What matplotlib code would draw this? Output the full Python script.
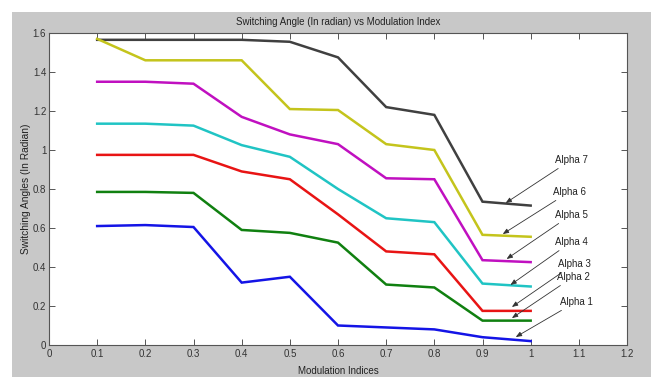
import matplotlib
matplotlib.use("Agg")
import matplotlib.pyplot as plt
from matplotlib.patches import Rectangle
from matplotlib.ticker import FuncFormatter

plt.rcParams['font.family'] = ['Liberation Sans', 'DejaVu Sans']

mod_index = [0.1, 0.2, 0.3, 0.4, 0.5, 0.6, 0.7, 0.8, 0.9, 1.0]
alpha1 = [0.61, 0.615, 0.605, 0.32, 0.35, 0.10, 0.09, 0.08, 0.04, 0.02]
alpha2 = [0.785, 0.785, 0.78, 0.59, 0.575, 0.525, 0.31, 0.295, 0.125, 0.125]
alpha3 = [0.975, 0.975, 0.975, 0.89, 0.85, 0.67, 0.48, 0.465, 0.175, 0.175]
alpha4 = [1.135, 1.135, 1.125, 1.025, 0.965, 0.80, 0.65, 0.63, 0.315, 0.30]
alpha5 = [1.35, 1.35, 1.34, 1.17, 1.08, 1.03, 0.855, 0.85, 0.435, 0.425]
alpha6 = [1.57, 1.46, 1.46, 1.46, 1.21, 1.205, 1.03, 1.0, 0.565, 0.555]
alpha7 = [1.565, 1.565, 1.565, 1.565, 1.555, 1.475, 1.22, 1.18, 0.735, 0.715]
labels = ['Alpha 1', 'Alpha 2', 'Alpha 3', 'Alpha 4', 'Alpha 5', 'Alpha 6', 'Alpha 7']
series = [alpha1, alpha2, alpha3, alpha4, alpha5, alpha6, alpha7]
colors = ['#1414e6', '#108010', '#e81414', '#20c4c4', '#c010c0', '#c4c41c', '#404040']

fig = plt.figure(figsize=(6.51, 3.77), dpi=100)
fig.patch.set_facecolor('#c8c8c8')
# white strips at top and left
fig.patches.append(Rectangle((0, 1 - 12/377), 1, 12/377, transform=fig.transFigure,
                             facecolor='white', edgecolor='none', zorder=0))
fig.patches.append(Rectangle((0, 0), 12/651, 1, transform=fig.transFigure,
                             facecolor='white', edgecolor='none', zorder=0))

ax = fig.add_axes([49/651, 1 - 345/377, (627-49)/651, (345-33)/377])
ax.set_facecolor('white')

for ys, c in zip(series[::-1], colors[::-1]):
    ax.plot(mod_index, ys, color=c, lw=1.8, solid_joinstyle='miter')

ax.set_xlim(0, 1.2)
ax.set_ylim(0, 1.6)
ax.set_xticks([i / 10 for i in range(13)])
ax.set_yticks([i / 5 for i in range(9)])
fmt = FuncFormatter(lambda v, p: f"{v:g}")
ax.xaxis.set_major_formatter(fmt)
ax.yaxis.set_major_formatter(fmt)
ax.tick_params(direction='in', top=True, right=True, length=4, width=0.7,
               colors='#555555', labelsize=7, labelcolor='#333333')
ax.tick_params(axis='y', pad=2)
ax.tick_params(axis='x', pad=3)
for s in ax.spines.values():
    s.set_color('#555555')
    s.set_linewidth(0.8)

ax.set_title('Switching Angle (In radian) vs Modulation Index', fontsize=7, color='#222222', pad=6)
ax.set_xlabel('Modulation Indices', fontsize=7, color='#222222', labelpad=5)
ax.set_ylabel('Switching Angles (In Radian)', fontsize=7.3, color='#222222', labelpad=1)

text_pos = [(1.060, 0.221), (1.054, 0.349), (1.056, 0.415), (1.050, 0.528),
            (1.050, 0.667), (1.046, 0.785), (1.050, 0.949)]
head_pos = [(0.969, 0.041), (0.961, 0.138), (0.961, 0.195), (0.958, 0.308),
            (0.950, 0.441), (0.942, 0.569), (0.948, 0.728)]
for lab, tp, hp in zip(labels, text_pos, head_pos):
    ax.annotate(lab, xy=hp, xytext=tp, ha='left', va='center', fontsize=7, color='#222222',
                arrowprops=dict(arrowstyle='-|>,head_length=0.5,head_width=0.2',
                                color='#333333', lw=0.6, shrinkA=1, shrinkB=0))

fig.savefig('out.png', dpi=100, facecolor=fig.get_facecolor())
